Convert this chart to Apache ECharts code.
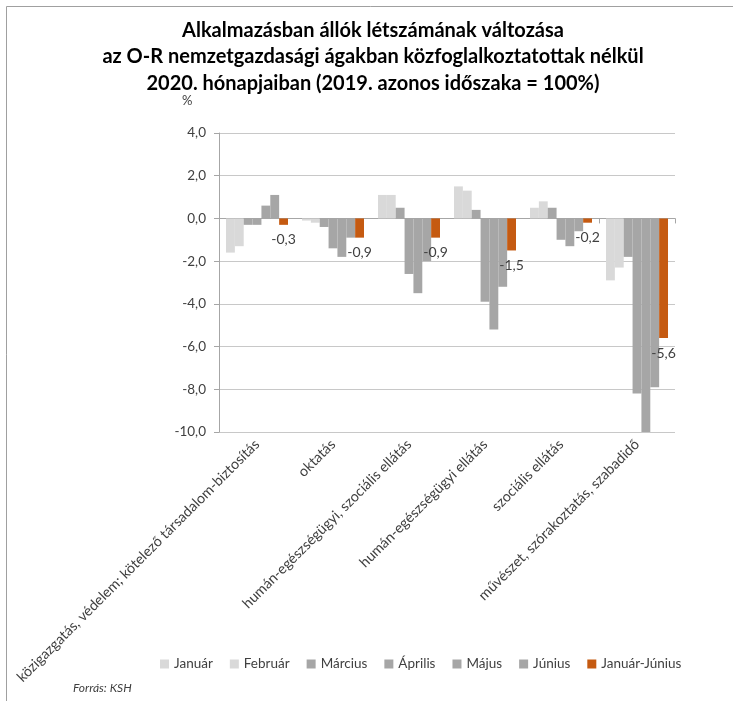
<!DOCTYPE html>
<html>
<head>
<meta charset="utf-8">
<script src="https://cdn.jsdelivr.net/npm/echarts@6/dist/echarts.min.js"></script>
<style>html,body{margin:0;padding:0;background:#fff;overflow:hidden;}#c{width:733px;height:701px;}</style>
</head>
<body>
<div id="c"></div>
<script>
const categories = ['közigazgatás, védelem; kötelező társadalom-biztosítás', 'oktatás', 'humán-egészségügyi, szociális ellátás', 'humán-egészségügyi ellátás', 'szociális ellátás', 'művészet, szórakoztatás, szabadidő'];
const seriesNames = ['Január', 'Február', 'Március', 'Április', 'Május', 'Június', 'Január-Június'];
const januar = [-1.6, -0.1, 1.1, 1.5, 0.5, -2.9];
const februar = [-1.3, -0.2, 1.1, 1.3, 0.8, -2.3];
const marcius = [-0.3, -0.4, 0.5, 0.4, 0.5, -1.8];
const aprilis = [-0.3, -1.4, -2.6, -3.9, -1.0, -8.2];
const majus = [0.6, -1.8, -3.5, -5.2, -1.3, -10.0];
const junius = [1.1, -0.9, -2.0, -3.2, -0.6, -7.9];
const januarJunius = [-0.3, -0.9, -0.9, -1.5, -0.2, -5.6];
const yTicks = [-10, -8, -6, -4, -2, 0, 2, 4];
const titleText = 'Alkalmazásban állók létszámának változása\naz O-R nemzetgazdasági ágakban közfoglalkoztatottak nélkül\n2020. hónapjaiban (2019. azonos időszaka = 100%)';

const FONT = 'Lato';
const colors = ['#d9d9d9', '#d9d9d9', '#a6a6a6', '#a6a6a6', '#a6a6a6', '#a6a6a6', '#c55a11'];
const allData = [januar, februar, marcius, aprilis, majus, junius, januarJunius];
const fmt = v => Number(v).toFixed(1).replace('.', ',');

const chart = echarts.init(document.getElementById('c'), null, {renderer: 'canvas'});
const series = seriesNames.map((name, i) => ({
  name: name,
  type: 'bar',
  xAxisIndex: 0,
  data: allData[i],
  barGap: '0%',
  barCategoryGap: '18.4%',
  itemStyle: {color: colors[i]},
  label: i === 6 ? {
    show: true,
    position: 'bottom',
    distance: 8,
    formatter: p => fmt(p.value),
    fontFamily: FONT,
    fontSize: 14,
    color: '#404040'
  } : {show: false},
  emphasis: {disabled: true}
}));

chart.setOption({
  animation: false,
  backgroundColor: '#fff',
  grid: {left: 219, top: 133, width: 456, height: 299, containLabel: false},
  legend: {
    left: 155,
    top: 652,
    itemWidth: 9,
    itemHeight: 9,
    itemGap: 17,
    icon: 'rect',
    textStyle: {fontFamily: FONT, fontSize: 13.5, color: '#404040'},
    data: seriesNames
  },
  xAxis: [{
    type: 'category',
    data: categories,
    axisLine: {onZero: true, lineStyle: {color: '#a6a6a6', width: 1}},
    axisTick: {show: true, length: 5, lineStyle: {color: '#a6a6a6'}},
    axisLabel: {show: false},
    splitLine: {show: false}
  }, {
    type: 'category',
    data: categories,
    position: 'bottom',
    axisLine: {show: false, onZero: false},
    axisTick: {show: false},
    axisLabel: {show: true, rotate: 45, interval: 0, margin: 10, fontFamily: FONT, fontSize: 14.3, color: '#404040'},
    splitLine: {show: false}
  }],
  yAxis: {
    type: 'value',
    min: yTicks[0],
    max: yTicks[yTicks.length - 1],
    interval: 2,
    axisLine: {show: true, lineStyle: {color: '#a6a6a6'}},
    axisTick: {show: true, length: 5, lineStyle: {color: '#a6a6a6'}},
    axisLabel: {formatter: v => fmt(v), fontFamily: FONT, fontSize: 13.5, color: '#404040', margin: 13},
    splitLine: {lineStyle: {color: '#c8c8c8', width: 1}}
  },
  graphic: [
    {type: 'text', x: 373, y: 17, style: {text: titleText, textAlign: 'center', fontFamily: FONT, fontWeight: 'bold', fontSize: 20, lineHeight: 26.5, fill: '#000'}},
    {type: 'text', left: 182, top: 94, style: {text: '%', fontFamily: FONT, fontSize: 13, fill: '#404040'}},
    {type: 'text', left: 73, top: 682, style: {text: 'Forrás: KSH', fontFamily: FONT, fontSize: 12, fontStyle: 'italic', fill: '#404040'}},
    {type: 'rect', shape: {x: 6.5, y: 6.5, width: 1000, height: 1000}, style: {fill: 'none', stroke: '#a0a0a0', lineWidth: 1}, silent: true}
  ],
  series: series
});
</script>
</body>
</html>
